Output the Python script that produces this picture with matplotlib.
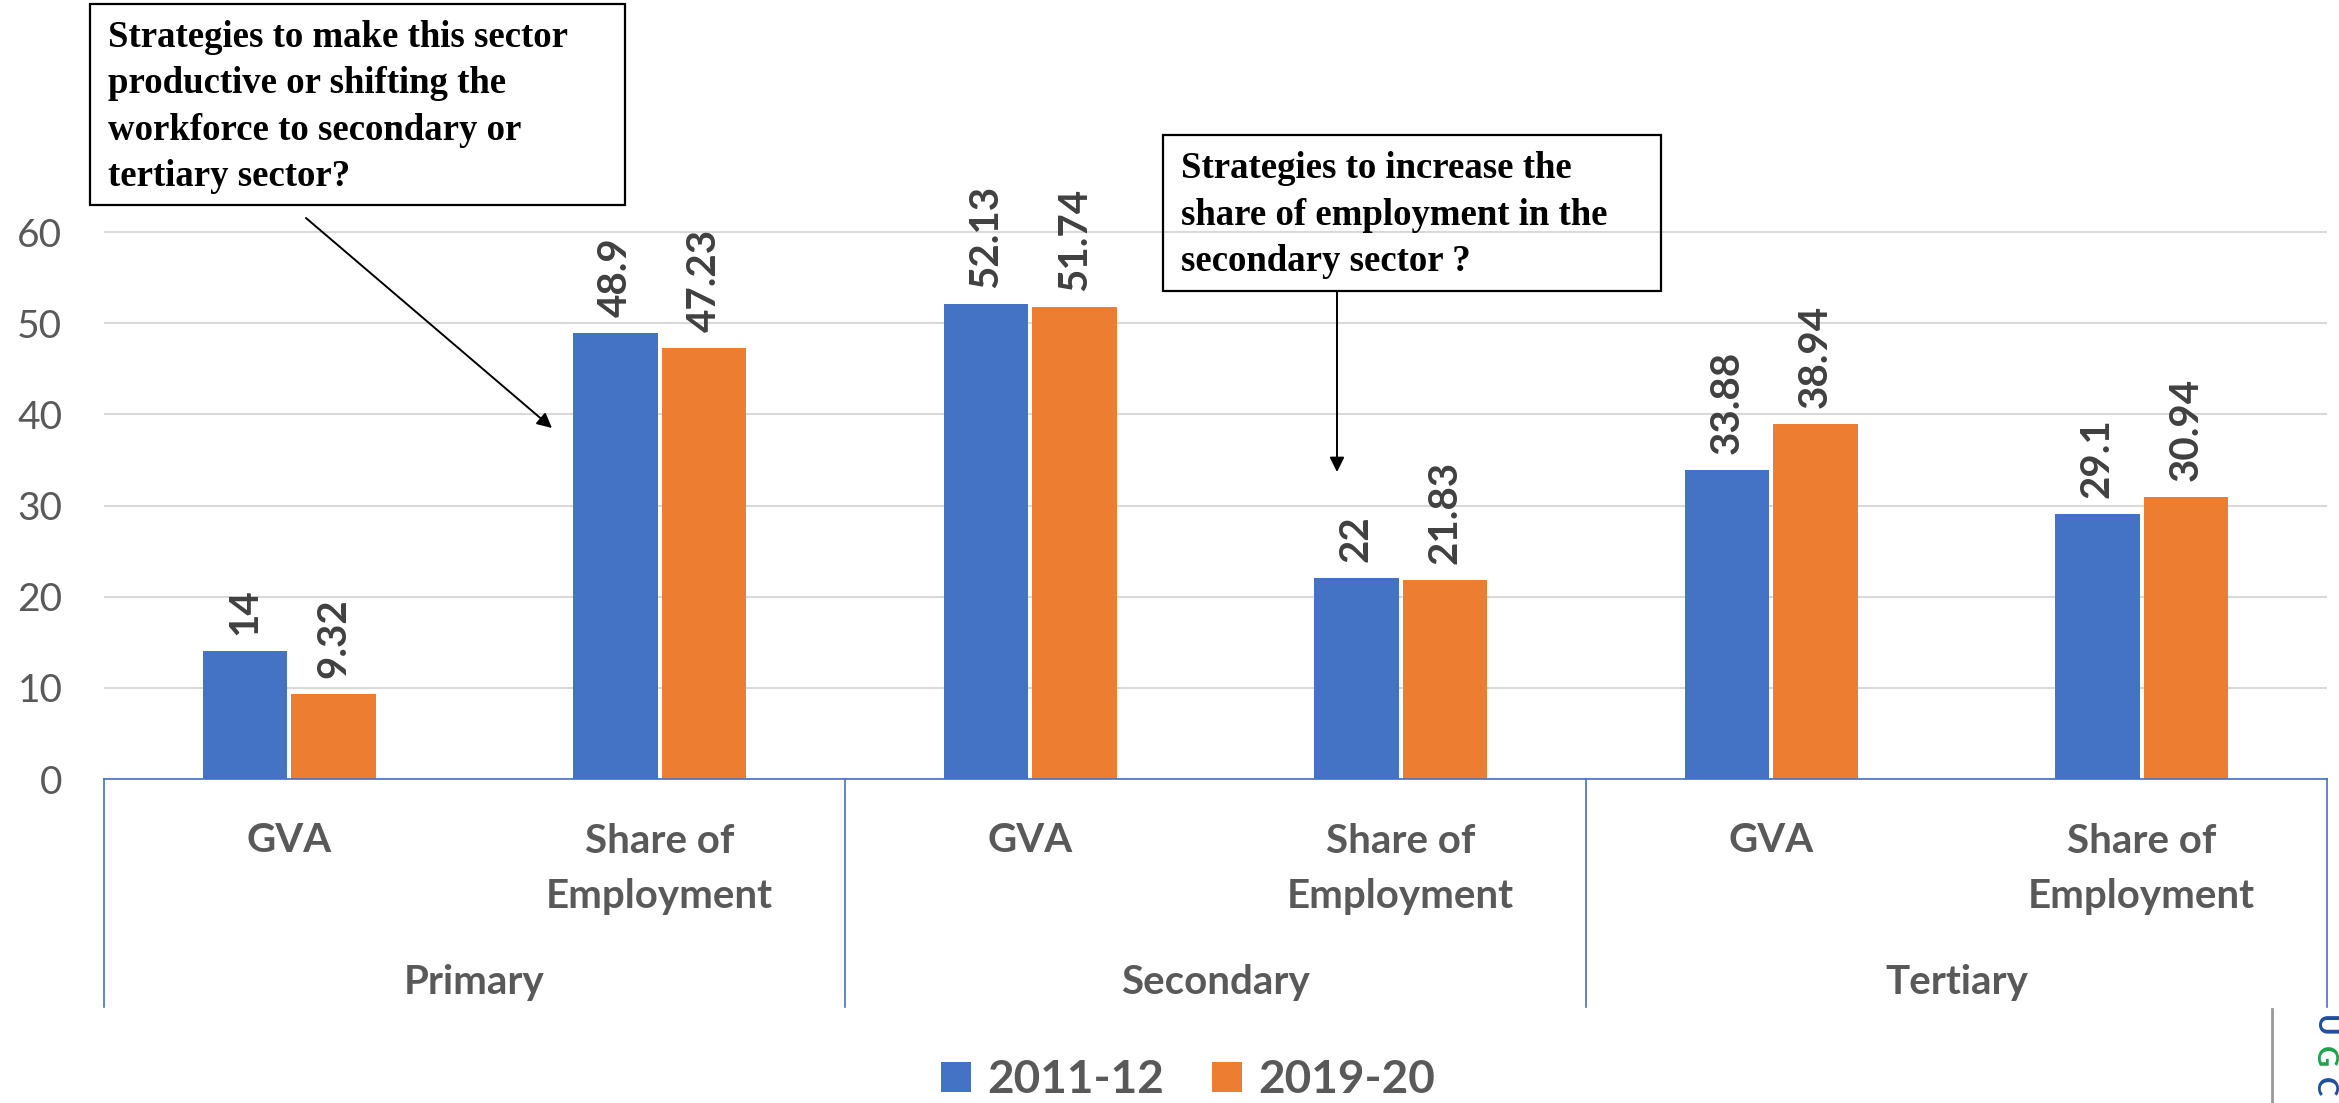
import matplotlib
matplotlib.use("Agg")
import matplotlib.pyplot as plt
import matplotlib.transforms as mtransforms
from matplotlib.patches import Rectangle, FancyArrowPatch
from matplotlib.lines import Line2D
import numpy as np

# data
sectors = ["Primary", "Secondary", "Tertiary"]
measures = ["GVA", "Share of\nEmployment"]
years = ["2011-12", "2019-20"]
vals_2011 = [14, 48.9, 52.13, 22, 33.88, 29.1]
vals_2019 = [9.32, 47.23, 51.74, 21.83, 38.94, 30.94]
y_ticks = [0, 10, 20, 30, 40, 50, 60]

note_left = ("Strategies to make this sector\nproductive or shifting the\n"
             "workforce to secondary or\ntertiary sector?")
note_mid = "Strategies to increase the\nshare of employment in the\nsecondary sector ?"

BLUE = "#4472C4"
ORANGE = "#ED7D31"
GREY = "#595959"
W, H = 2339, 1103

plt.rcParams["font.family"] = ["Lato", "DejaVu Sans"]

fig = plt.figure(figsize=(W / 100, H / 100), dpi=100)


def fx(x):
    return x / W


def fy(y):
    return 1 - y / H


ax = fig.add_axes([fx(104), fy(779), fx(2327) - fx(104), fy(0) - fy(779)])

n = len(vals_2011)
x = np.arange(n)
bw = 0.227
off = 0.1195
b1 = ax.bar(x - off, vals_2011, bw, color=BLUE, label=years[0], zorder=2)
b2 = ax.bar(x + off, vals_2019, bw, color=ORANGE, label=years[1], zorder=2)

for bars, vals in ((b1, vals_2011), (b2, vals_2019)):
    for rect, v in zip(bars, vals):
        ax.annotate(f"{v:g}", (rect.get_x() + rect.get_width() / 2, v),
                    xytext=(0, 11.5), textcoords="offset points",
                    rotation=90, ha="center", va="bottom",
                    fontsize=29, fontweight="bold", color="#404040")

ax.set_xlim(-0.5, n - 0.5)
ax.set_ylim(0, 779 / ((779 - 232) / 60))
ax.set_yticks(y_ticks)
ax.tick_params(axis="y", length=0, pad=30, labelsize=28, labelcolor=GREY)
ax.set_xticks([])
ax.yaxis.grid(True, color="#D9D9D9", linewidth=1.5)
ax.set_axisbelow(True)
for s in ("top", "right", "left"):
    ax.spines[s].set_visible(False)
ax.spines["bottom"].set_color(BLUE)
ax.spines["bottom"].set_linewidth(1.2)

# multi-level category axis (va="baseline" puts the last line on y)
tr = mtransforms.blended_transform_factory(ax.transData, fig.transFigure)
for i in range(n):
    label = measures[i % 2]
    yb = 852 if "\n" not in label else 908
    ax.text(x[i], fy(yb), label, transform=tr, ha="center",
            va="baseline", fontsize=29, fontweight="bold", color=GREY,
            linespacing=1.6)
for g, name in enumerate(sectors):
    ax.text(2 * g + 0.5, fy(994), name, transform=tr, ha="center",
            va="baseline", fontsize=29, fontweight="bold", color=GREY)
for xb in np.arange(len(sectors) + 1) * 2 - 0.5:
    fig.add_artist(Line2D([xb, xb], [fy(779), fy(1007)], transform=tr,
                          color=BLUE, linewidth=1.2))

# note boxes and arrows
fig.add_artist(Rectangle((fx(90), fy(205)), fx(625) - fx(90), fy(4) - fy(205),
                         transform=fig.transFigure, fill=False,
                         edgecolor="black", linewidth=1.6))
fig.text(fx(108), fy(186), note_left, ha="left", va="baseline",
         family="Liberation Serif", fontweight="bold", fontsize=26.5,
         linespacing=1.42)
fig.add_artist(Rectangle((fx(1163), fy(291)), fx(1661) - fx(1163),
                         fy(135) - fy(291), transform=fig.transFigure,
                         fill=False, edgecolor="black", linewidth=1.6))
fig.text(fx(1181), fy(271), note_mid, ha="left", va="baseline",
         family="Liberation Serif", fontweight="bold", fontsize=26.5,
         linespacing=1.42)
for (x0, y0), (x1, y1) in (((306, 218), (552, 428)), ((1337, 291), (1337, 472))):
    fig.add_artist(FancyArrowPatch((fx(x0), fy(y0)), (fx(x1), fy(y1)),
                                   transform=fig.transFigure,
                                   arrowstyle="-|>", mutation_scale=22,
                                   color="black", linewidth=1.4,
                                   shrinkA=0, shrinkB=0))

fig.legend(loc="center", bbox_to_anchor=(fx(1188), fy(1080)), ncol=2,
           frameon=False, prop={"size": 33, "weight": "bold"},
           labelcolor=GREY, handlelength=0.65, handleheight=0.65,
           handletextpad=0.35, columnspacing=1.05, borderpad=0)

# small logo at the bottom right corner
fig.add_artist(Line2D([fx(2272), fx(2272)], [fy(1009), fy(1103)],
                      transform=fig.transFigure, color="#999999", linewidth=2))
for ch, yc, col in (("U", 1026, "#1F4E9E"), ("G", 1057, "#1BA34A"),
                    ("C", 1087, "#1F4E9E")):
    fig.text(fx(2337), fy(yc), ch, rotation=-90, ha="right", va="center",
             fontsize=21, fontweight="bold", color=col)

fig.savefig("out.png", dpi=100)
